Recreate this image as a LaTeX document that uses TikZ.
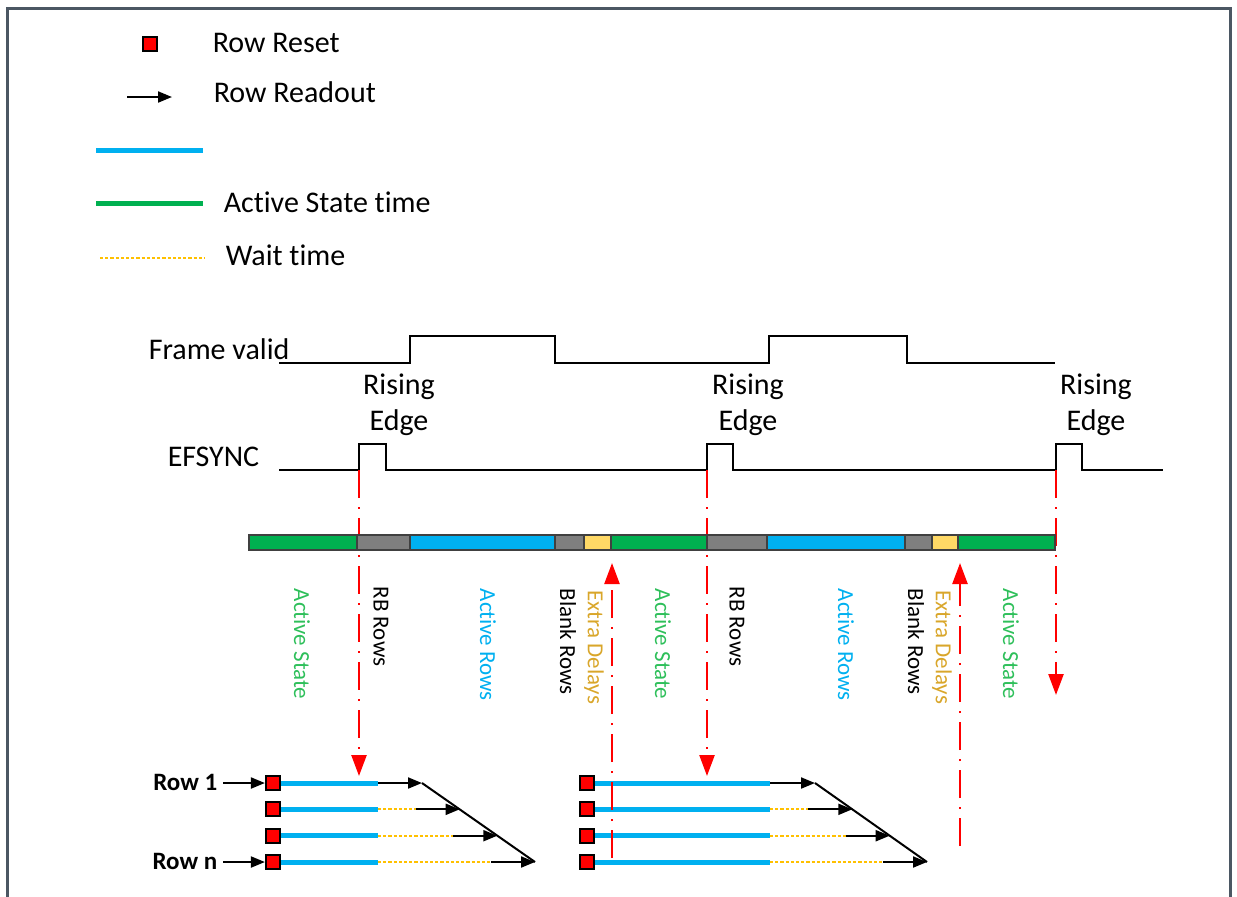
\documentclass[tikz,border=0pt]{standalone}
\usepackage{fontspec}
\setmainfont{Carlito}[Ligatures=NoCommon]
\usetikzlibrary{arrows.meta,positioning,calc}
\definecolor{framec}{HTML}{4B5763}
\definecolor{actgreen}{HTML}{00B050}
\definecolor{rowblue}{HTML}{00B0F0}
\definecolor{blankgray}{HTML}{7F7F7F}
\definecolor{delayyellow}{HTML}{FFD966}
\definecolor{waitorange}{HTML}{FFC000}
\definecolor{delaytext}{HTML}{D9A62A}
\definecolor{statetext}{HTML}{2EBF5A}
\tikzset{every picture/.style={line width=0.75pt}}
\tikzset{
  txt/.style={font=\fontsize{15}{18}\selectfont, inner sep=0pt},
  vlab/.style={rotate=-90, anchor=west, font=\fontsize{11.5}{13}\selectfont, inner sep=0pt},
  rowlab/.style={font=\fontsize{12.5}{15}\selectfont\bfseries, inner sep=0pt, anchor=base east},
  sig/.style={line width=1.2pt},
  sync/.style={line width=0.9pt},
  seg/.style={draw=black!75, line width=0.6pt},
  trig/.style={red, line width=1.2pt, dash pattern=on 14pt off 4.5pt on 1pt off 4.5pt,
    -{Triangle[length=10.5pt,width=7.5pt]}},
  rowsq/.style={draw=black, fill=red, line width=1.1pt, minimum size=7pt, inner sep=0pt},
  expo/.style={rowblue, line width=2.5pt},
  wait/.style={waitorange, line width=1pt, dash pattern=on 1.6pt off 1pt},
  readout/.style={line width=1pt, -{Triangle[length=7pt,width=5.5pt]}}
}

\begin{document}
\begin{tikzpicture}[x=0.5pt,y=-0.5pt]
    \useasboundingbox (0,0) rectangle (1237,896);

    % 外框
    \draw[framec, line width=1.4pt] (7.5,910) -- (7.5,8.5) -- (1230.5,8.5) -- (1230.5,910);

    % 图例
    \node[rowsq] (lgsq) at (150,44) {};
    \node[txt, anchor=base west] (lgreset) at (212,52) {Row Reset};
    \coordinate (lga) at (127,97);
    \coordinate (lgb) at (172,97);
    \draw[readout] (lga) -- (lgb);
    \node[txt, anchor=base west] (lgread) at (213,102) {Row Readout};
    \draw[expo] (96,150) -- (203,150);
    \draw[actgreen, line width=2.5pt] (96,203) -- (203,203);
    \node[txt, anchor=base west] (lgact) at (223,212) {Active State time};
    \draw[wait, line width=0.8pt] (100,258) -- (205,258);
    \node[txt, anchor=base west] (lgwait) at (225,265) {Wait time};

    % Frame valid 信号
    \node[txt, anchor=base west] (fv) at (148,359) {Frame valid};
    \draw[sig] (279,363) -- (410,363) -- (410,336) -- (555,336) -- (555,363) -- (769,363)
        -- (769,336) -- (907,336) -- (907,363) -- (1055,363);

    % EFSYNC 信号
    \node[txt, anchor=base west] (efs) at (167,466) {EFSYNC};
    \draw[sync] (279,470) -- (359,470) -- (359,444) -- (386,444) -- (386,470) -- (707,470)
        -- (707,444) -- (733,444) -- (733,470) -- (1056,470) -- (1056,444) -- (1082,444)
        -- (1082,470) -- (1163,470);

    % 上升沿标注
    \node[txt, align=center] (re1) at (399,405) {Rising\\Edge};
    \node[txt, align=center] (re2) at (748,405) {Rising\\Edge};
    \node[txt, align=center] (re3) at (1096,405) {Rising\\Edge};

    % 第一组行
    \node[rowlab] (lr1) at (218,790) {Row 1};
    \node[rowlab] (lrn) at (218,869) {Row n};
    \node[rowsq] (a1) at (273,783) {};
    \node[rowsq] (a2) at (273,809.3) {};
    \node[rowsq] (a3) at (273,835.7) {};
    \node[rowsq] (a4) at (273,862) {};
    \draw[readout, shorten <=2.5pt] (lr1.east |- a1) -- (a1.west);
    \draw[readout, shorten <=2.5pt] (lrn.east |- a4) -- (a4.west);
    \coordinate (at1) at (422,783);
    \coordinate (at2) at (459.7,809.3);
    \coordinate (at3) at (497.3,835.7);
    \coordinate (at4) at (535,862);
    \draw[expo] (a1.east) -- (378,783) coordinate (ae1);
    \draw[expo] (a2.east) -- (378,809.3) coordinate (ae2);
    \draw[expo] (a3.east) -- (378,835.7) coordinate (ae3);
    \draw[expo] (a4.east) -- (378,862) coordinate (ae4);
    \draw[readout] (ae1) -- (at1);
    \draw[wait] (ae2) -- ($(at2)+(-44,0)$);
    \draw[readout] ($(at2)+(-44,0)$) -- (at2);
    \draw[wait] (ae3) -- ($(at3)+(-44,0)$);
    \draw[readout] ($(at3)+(-44,0)$) -- (at3);
    \draw[wait] (ae4) -- ($(at4)+(-44,0)$);
    \draw[readout] ($(at4)+(-44,0)$) -- (at4);
    \draw[line width=1pt] (at1) -- (at4);

    % 第二组行
    \node[rowsq] (b1) at (587,783) {};
    \node[rowsq] (b2) at (587,809.3) {};
    \node[rowsq] (b3) at (587,835.7) {};
    \node[rowsq] (b4) at (587,862) {};
    \coordinate (bt1) at (815,783);
    \coordinate (bt2) at (852.3,809.3);
    \coordinate (bt3) at (889.7,835.7);
    \coordinate (bt4) at (927,862);
    \draw[expo] (b1.east) -- (770,783) coordinate (be1);
    \draw[expo] (b2.east) -- (770,809.3) coordinate (be2);
    \draw[expo] (b3.east) -- (770,835.7) coordinate (be3);
    \draw[expo] (b4.east) -- (770,862) coordinate (be4);
    \draw[readout] (be1) -- (bt1);
    \draw[wait] (be2) -- ($(bt2)+(-44,0)$);
    \draw[readout] ($(bt2)+(-44,0)$) -- (bt2);
    \draw[wait] (be3) -- ($(bt3)+(-44,0)$);
    \draw[readout] ($(bt3)+(-44,0)$) -- (bt3);
    \draw[wait] (be4) -- ($(bt4)+(-44,0)$);
    \draw[readout] ($(bt4)+(-44,0)$) -- (bt4);
    \draw[line width=1pt] (bt1) -- (bt4);

    % 触发线
    \coordinate (s1) at (359,470);
    \coordinate (s2) at (707,470);
    \coordinate (s3) at (1056,470);
    \coordinate (h1) at (359,776);
    \coordinate (h2) at (707,776);
    \coordinate (h3) at (1056,695);
    \draw[trig] (s1) -- (h1);
    \draw[trig] (s2) -- (h2);
    \draw[trig] (s3) -- (h3);
    \coordinate (u1) at (612,858);
    \coordinate (u2) at (960,846);
    \draw[trig] (u1) -- (612,563);
    \draw[trig] (u2) -- (960,563);

    % 时间条
    \draw[seg, fill=actgreen] (249,535) rectangle (357,550);
    \draw[seg, fill=blankgray] (357,535) rectangle (410,550);
    \draw[seg, fill=rowblue] (410,535) rectangle (555,550);
    \draw[seg, fill=blankgray] (555,535) rectangle (584,550);
    \draw[seg, fill=delayyellow] (584,535) rectangle (611,550);
    \draw[seg, fill=actgreen] (611,535) rectangle (707,550);
    \draw[seg, fill=blankgray] (707,535) rectangle (767,550);
    \draw[seg, fill=rowblue] (767,535) rectangle (905,550);
    \draw[seg, fill=blankgray] (905,535) rectangle (932,550);
    \draw[seg, fill=delayyellow] (932,535) rectangle (958,550);
    \draw[seg, fill=actgreen] (958,535) rectangle (1055,550);

    % 竖排标签
    \node[vlab, statetext] (v1) at (302,588) {Active State};
    \node[vlab] (v2) at (381,586) {RB Rows};
    \node[vlab, rowblue] (v3) at (488,588) {Active Rows};
    \node[vlab] (v4) at (568,588) {Blank Rows};
    \node[vlab, delaytext] (v5) at (594,590) {Extra Delays};
    \node[vlab, statetext] (v6) at (663,588) {Active State};
    \node[vlab] (v7) at (737,586) {RB Rows};
    \node[vlab, rowblue] (v8) at (846,588) {Active Rows};
    \node[vlab] (v9) at (916,588) {Blank Rows};
    \node[vlab, delaytext] (v10) at (942,590) {Extra Delays};
    \node[vlab, statetext] (v11) at (1011,588) {Active State};
\end{tikzpicture}
\end{document}
